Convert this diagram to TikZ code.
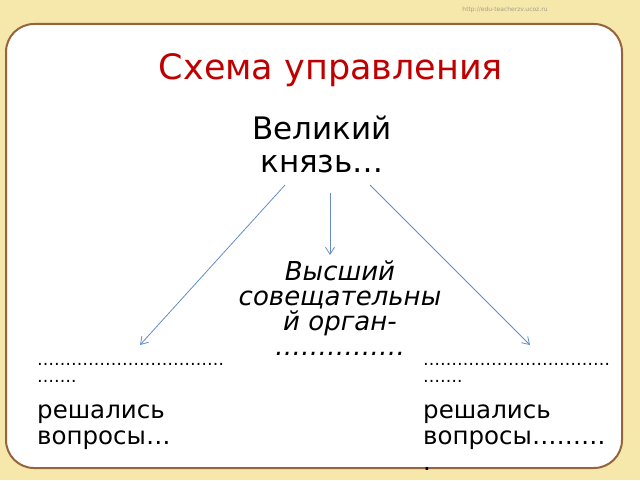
\documentclass[tikz,border=0pt]{standalone}
\usepackage{fontspec}
\setmainfont{DejaVu Sans}
\usetikzlibrary{arrows.meta}
\definecolor{bgy}{RGB}{246,232,170}
\definecolor{frm}{RGB}{150,100,60}
\definecolor{ttl}{RGB}{192,0,0}
\definecolor{arr}{RGB}{100,140,200}
\tikzset{
  txt/.style={inner sep=0pt,align=left,anchor=base west,font=\fontsize{24.5}{26}\selectfont},
  dots/.style={inner sep=0pt,align=left,anchor=base west,font=\fontsize{17}{17}\selectfont},
  con/.style={draw=arr,line width=0.8pt,-{Straight Barb[length=7pt,width=9pt]}}
}
\begin{document}
\begin{tikzpicture}[x=1pt,y=1pt]
\useasboundingbox (0,0) rectangle (640,480);
\fill[bgy] (0,0) rectangle (640,480);
\draw[frm,line width=2pt,fill=white,rounded corners=28pt] (6,12) rectangle (622,456);
\node[inner sep=0pt,text=gray!70!bgy,font=\fontsize{6}{7}\selectfont] (url) at (505,470) {http://edu-teacherzv.ucoz.ru};
\node[inner sep=0pt,text=ttl,font=\fontsize{35}{40}\selectfont] (title) at (331,410) {Схема управления};
\node[inner sep=0pt,align=center,font=\fontsize{31}{33}\selectfont] (kn) at (322,336) {Великий\\князь…};
\node[inner sep=0pt,align=center,font=\itshape\fontsize{26}{25}\selectfont] (org) at (340,172) {Высший\\совещательны\\й орган-\\……………};
\node[dots] (ld) at (37,98) {……………………………\\…….};
\node[txt] (left) at (37,36) {решались\\вопросы…};
\node[dots] (rd) at (423,98) {……………………………\\…….};
\node[txt] (right) at (423,10) {решались\\вопросы………\\.};
\coordinate (a1) at (285,295);
\coordinate (a2) at (330,287);
\coordinate (a3) at (370,295);
\coordinate (b1) at (140,135);
\coordinate (b2) at (330,225);
\coordinate (b3) at (530,135);
\draw[con] (a1) -- (b1);
\draw[con] (a2) -- (b2);
\draw[con] (a3) -- (b3);
\end{tikzpicture}
\end{document}
